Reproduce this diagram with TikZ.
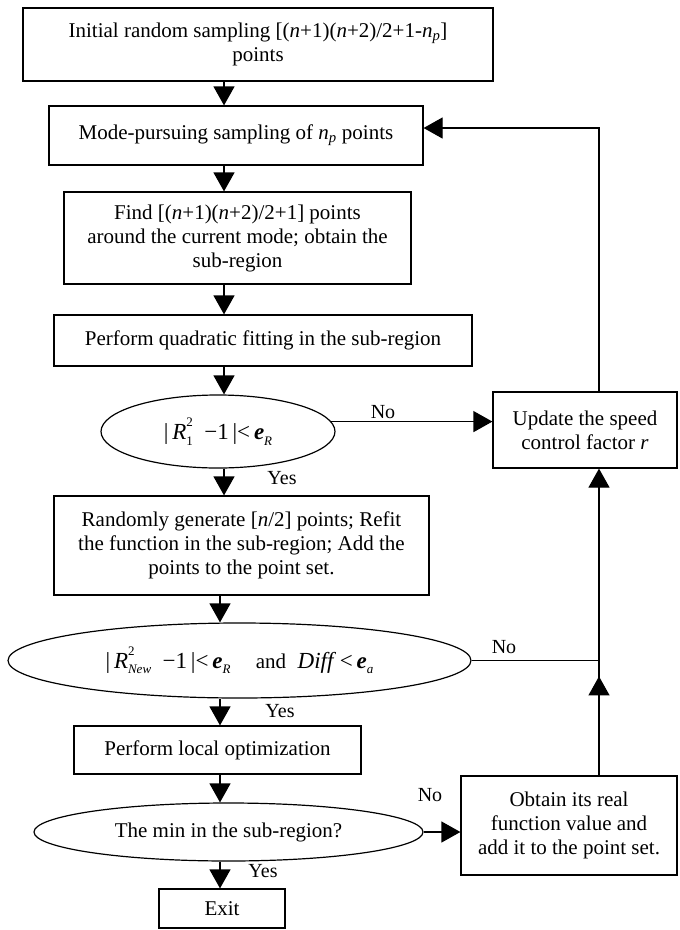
\documentclass[tikz,border=0pt]{standalone}
\usepackage{fontspec}
\setmainfont{Liberation Serif}
\usetikzlibrary{shapes.geometric,arrows.meta,calc}
\newcommand\mysubsup[2]{\makebox[0pt][l]{\raisebox{0.55em}{\fontsize{13}{13}\selectfont #1}}\raisebox{-0.25em}{\fontsize{13}{13}\selectfont #2}}
\newcommand\mysub[1]{\raisebox{-0.25em}{\fontsize{13}{13}\selectfont #1}}
\tikzset{
  box/.style={draw, line width=1.2pt, rectangle, inner sep=0pt, align=center, font=\fontsize{21}{24}\selectfont},
  oval/.style={draw, line width=1.2pt, ellipse, inner sep=0pt, align=center, font=\fontsize{21}{24}\selectfont},
  mathtxt/.style={font=\fontsize{23}{26}\selectfont},
  arr/.style={line width=1.2pt, -{Triangle[length=19pt,width=21pt]}},
  conn/.style={line width=1.2pt},
  lbl/.style={font=\fontsize{20}{20}\selectfont, inner sep=0pt},
}
\begin{document}
\begin{tikzpicture}[x=1pt,y=-1pt]
\useasboundingbox (0,0) rectangle (680,930);
\node[box, minimum width=470pt, minimum height=73pt] (init) at (258,44.5) {Initial random sampling [(\textit{n}+1)(\textit{n}+2)/2+1-\textit{n}\textsubscript{\textit{p}}]\\points};
\node[box, minimum width=374pt, minimum height=59pt] (mode) at (236,135.5) {Mode-pursuing sampling of \textit{n}\textsubscript{\textit{p}} points};
\node[box, minimum width=347pt, minimum height=92pt] (find) at (237.5,238) {Find [(\textit{n}+1)(\textit{n}+2)/2+1] points\\around the current mode; obtain the\\sub-region};
\node[box, minimum width=418pt, minimum height=51pt] (quad) at (263,340.5) {Perform quadratic fitting in the sub-region};
\node[oval, mathtxt, minimum width=234pt, minimum height=73pt] (ell1) at (218,431.5) {|\,\textit{R}\mysubsup{2}{1}\enspace−1\,|<\,\textbf{\textit{e}}\mysub{\textit{R}}};
\node[box, minimum width=184pt, minimum height=76pt] (update) at (585,430) {Update the speed\\control factor \textit{r}};
\node[box, minimum width=375pt, minimum height=99pt] (rand) at (241.5,545.5) {Randomly generate [\textit{n}/2] points; Refit\\the function in the sub-region; Add the\\points to the point set.};
\node[oval, mathtxt, minimum width=463pt, minimum height=75pt] (ell2) at (239.5,660.5) {|\,\textit{R}\mysubsup{2}{\textit{New}}\enspace−1\,|<\,\textbf{\textit{e}}\mysub{\textit{R}}\hspace{1.1em}{\fontsize{21}{24}\selectfont and}\hspace{0.5em}\textit{Diff}\,<\,\textbf{\textit{e}}\mysub{\textit{a}}};
\node[box, minimum width=287pt, minimum height=48pt] (local) at (217.5,750) {Perform local optimization};
\node[oval, minimum width=389pt, minimum height=58pt] (ell3) at (228.5,832) {The min in the sub-region?};
\node[box, minimum width=216pt, minimum height=99pt] (obtain) at (569,825.5) {Obtain its real\\function value and\\add it to the point set.};
\node[box, minimum width=126pt, minimum height=39pt] (exit) at (222,908.5) {Exit};

\coordinate (s1) at (224,0);
\coordinate (s2) at (220,0);
\coordinate (rx) at (599,128);
\coordinate (j) at (599,659);

\draw[arr] (init.south -| s1) -- (mode.north -| s1);
\draw[arr] (mode.south -| s1) -- (find.north -| s1);
\draw[arr] (find.south -| s1) -- (quad.north -| s1);
\draw[arr] (quad.south -| s1) -- (ell1.north -| s1);
\draw[arr] (ell1.south -| s1) -- (rand.north -| s1);
\draw[arr] (rand.south -| s2) -- (ell2.north -| s2);
\draw[arr] (ell2.south -| s2) -- (local.north -| s2);
\draw[arr] (local.south -| s2) -- (ell3.north -| s2);
\draw[arr] (ell3.south -| s2) -- (exit.north -| s2);
\draw[arr] (ell1.5) -- (update.west |- ell1.5);
\draw[arr] (update.north -| rx) -- (rx) -- (mode.east |- rx);
\draw[conn] (ell2.east) -- (ell2.east -| j);
\draw[arr] (obtain.north -| j) -- (update.south -| j);
\draw[arr] (obtain.north -| j) -- ++(0,-99);
\draw[arr] (ell3.east) -- (obtain.west |- ell3.east);

\node[lbl] (no1) at (383,412) {No};
\node[lbl] (yes1) at (282,478) {Yes};
\node[lbl] (no2) at (504,647) {No};
\node[lbl] (yes2) at (280,711) {Yes};
\node[lbl] (no3) at (430,795) {No};
\node[lbl] (yes3) at (263,871) {Yes};
\end{tikzpicture}
\end{document}
